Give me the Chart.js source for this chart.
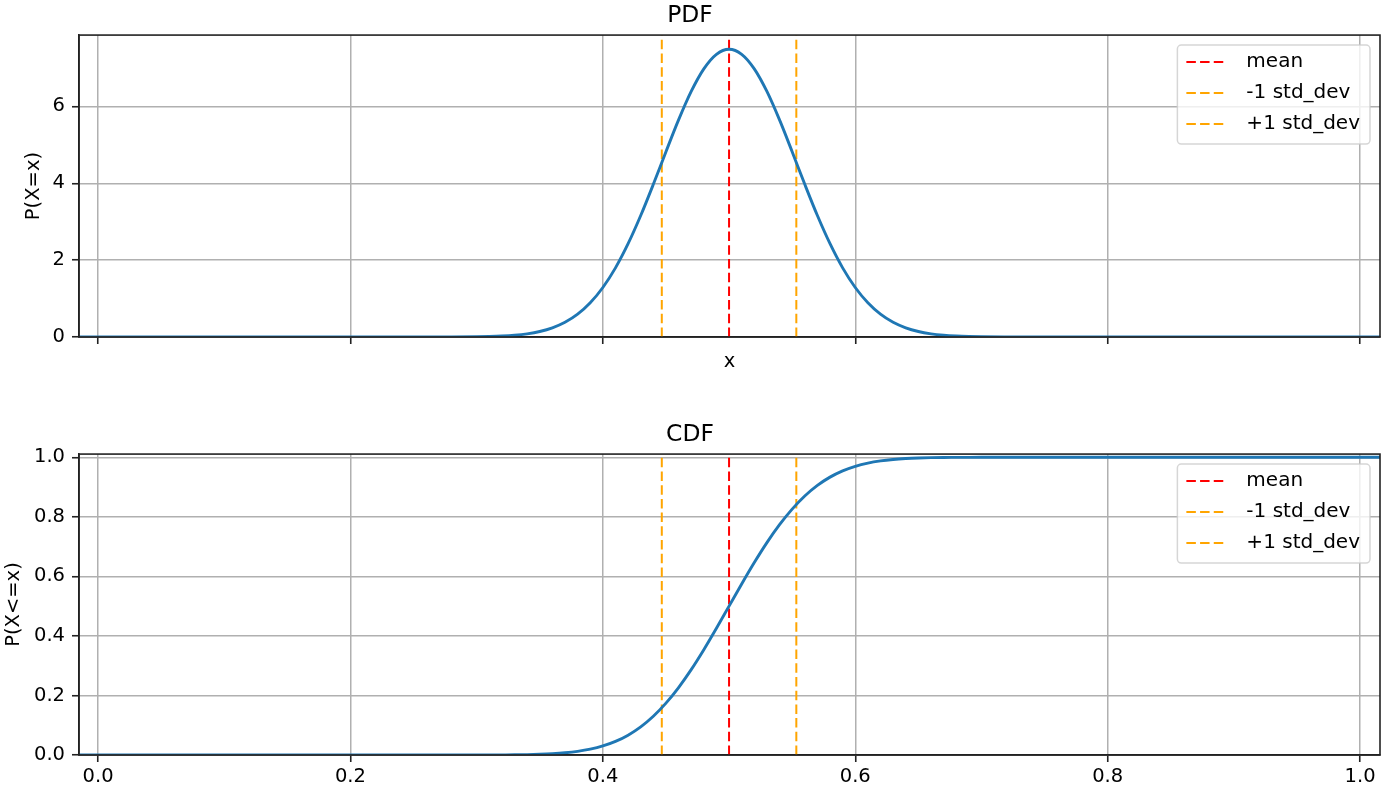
<!DOCTYPE html>
<html>
<head>
<meta charset="utf-8">
<script src="https://cdn.jsdelivr.net/npm/chart.js@4/dist/chart.umd.min.js"></script>
<style>
  body { margin: 0; background: #fff; }
  canvas { position: absolute; left: 0; }
</style>
</head>
<body>
<canvas id="pdfChart" width="1396" height="400" style="top:0"></canvas>
<canvas id="cdfChart" width="1396" height="402" style="top:400px"></canvas>
<script>
// values
const xValues = [-0.016, 0.00, 0.20, 0.25, 0.28, 0.30, 0.31, 0.32, 0.33, 0.34, 0.35, 0.36, 0.37, 0.38, 0.39,
  0.40, 0.41, 0.42, 0.43, 0.44, 0.45, 0.46, 0.47, 0.48, 0.49, 0.50, 0.51, 0.52, 0.53, 0.54, 0.55,
  0.56, 0.57, 0.58, 0.59, 0.60, 0.61, 0.62, 0.63, 0.64, 0.65, 0.66, 0.67, 0.68, 0.69, 0.70, 0.72,
  0.75, 0.80, 1.00, 1.017];
const pdfValues = [0, 0, 0, 0, 0.0015, 0.0066, 0.013, 0.025, 0.046, 0.083, 0.143, 0.238, 0.382, 0.593, 0.890,
  1.288, 1.799, 2.427, 3.160, 3.972, 4.821, 5.648, 6.389, 6.977, 7.355, 7.485, 7.355, 6.977, 6.389, 5.648, 4.821,
  3.972, 3.160, 2.427, 1.799, 1.288, 0.890, 0.593, 0.382, 0.238, 0.143, 0.083, 0.046, 0.025, 0.013, 0.0066, 0.0015,
  0, 0, 0, 0];
const cdfValues = [0, 0, 0, 0, 0, 0.0001, 0.0002, 0.0004, 0.0007, 0.0013, 0.0024, 0.0043, 0.0074, 0.0122, 0.0195,
  0.0303, 0.0456, 0.0667, 0.0945, 0.1301, 0.1741, 0.2265, 0.2867, 0.3537, 0.4256, 0.5, 0.5744, 0.6463, 0.7133, 0.7735, 0.8259,
  0.8699, 0.9055, 0.9333, 0.9544, 0.9697, 0.9805, 0.9878, 0.9926, 0.9957, 0.9976, 0.9987, 0.9993, 0.9996, 0.9998, 0.9999, 1.0,
  1.0, 1.0, 1.0, 1.0];

const markerNames = ['mean', '-1 std_dev', '+1 std_dev'];
const markerX = [0.5, 0.4467, 0.5533];
const markerColors = ['#ff0000', '#ffa500', '#ffa500'];

const xTickValues = [0, 0.2, 0.4, 0.6, 0.8, 1.0];
const xTickLabels = ['0.0', '0.2', '0.4', '0.6', '0.8', '1.0'];
const pdfTickValues = [0, 2, 4, 6];
const pdfTickLabels = ['0', '2', '4', '6'];
const cdfTickValues = [0, 0.2, 0.4, 0.6, 0.8, 1.0];
const cdfTickLabels = ['0.0', '0.2', '0.4', '0.6', '0.8', '1.0'];

const xRange = [-0.0151, 1.0158];
const pdfRange = [0, 7.855];
const cdfRange = [0, 1.0107];

Chart.defaults.font.family = "'DejaVu Sans', sans-serif";
Chart.defaults.font.size = 19.5;
Chart.defaults.color = '#000';

// matplotlib-like frame + legend drawn over the data
const mplFrame = {
  id: 'mplFrame',
  afterDatasetsDraw(chart) {
    const { ctx, chartArea: a } = chart;
    ctx.save();
    ctx.strokeStyle = '#222';
    ctx.lineWidth = 1.6;
    ctx.strokeRect(a.left, a.top, a.right - a.left, a.bottom - a.top);

    const items = chart.data.datasets.filter(d => d.inLegend);
    ctx.font = "20px 'DejaVu Sans', sans-serif";
    const textW = Math.max(...items.map(d => ctx.measureText(d.label).width));
    const w = textW + 79;
    const h = 99;
    const right = a.right - 10;
    const left = right - w;
    const top = a.top + 10;
    ctx.beginPath();
    ctx.roundRect(left, top, w, h, 4);
    ctx.fillStyle = 'rgba(255,255,255,0.8)';
    ctx.fill();
    ctx.strokeStyle = 'rgba(204,204,204,0.8)';
    ctx.lineWidth = 1.5;
    ctx.stroke();

    items.forEach((d, i) => {
      const y = top + 17 + i * 31;
      ctx.beginPath();
      ctx.setLineDash(d.borderDash);
      ctx.strokeStyle = d.borderColor;
      ctx.lineWidth = d.borderWidth;
      ctx.moveTo(left + 9, y);
      ctx.lineTo(left + 50, y);
      ctx.stroke();
      ctx.setLineDash([]);
      ctx.fillStyle = '#000';
      ctx.textBaseline = 'middle';
      ctx.textAlign = 'left';
      ctx.fillText(d.label, left + 69, y);
    });
    ctx.restore();
  }
};

function makeChart(id, opts) {
  const curve = xValues.map((x, i) => ({ x: x, y: opts.values[i] }));
  const datasets = [{
    label: opts.title,
    data: curve,
    showLine: true,
    borderColor: '#1f77b4',
    borderWidth: 2.9,
    pointRadius: 0,
    cubicInterpolationMode: 'monotone',
    inLegend: false
  }];
  markerNames.forEach((name, i) => {
    datasets.push({
      label: name,
      data: [{ x: markerX[i], y: opts.range[0] }, { x: markerX[i], y: opts.range[1] }],
      showLine: true,
      borderColor: markerColors[i],
      borderWidth: 2,
      borderDash: [9.5, 4.2],
      pointRadius: 0,
      inLegend: true
    });
  });

  return new Chart(document.getElementById(id), {
    type: 'scatter',
    data: { datasets: datasets },
    plugins: [mplFrame],
    options: {
      responsive: false,
      animation: false,
      layout: { padding: { left: 0, right: 16, top: 0, bottom: 0 } },
      plugins: {
        legend: { display: false },
        tooltip: { enabled: false },
        title: {
          display: true,
          text: opts.title,
          font: { size: 23.4, weight: 'normal' },
          padding: opts.titlePad
        }
      },
      scales: {
        x: {
          type: 'linear',
          min: xRange[0],
          max: xRange[1],
          afterBuildTicks: s => { s.ticks = xTickValues.map(v => ({ value: v })); },
          afterFit: s => { s.height = opts.xHeight; },
          ticks: {
            display: opts.showXLabels,
            padding: 3,
            maxRotation: 0,
            callback: (v, i) => xTickLabels[i]
          },
          grid: { color: '#b0b0b0', lineWidth: 1.5, tickLength: 7, tickColor: '#222', tickWidth: 1.6 },
          border: { color: '#222', width: 1.6 },
          title: {
            display: opts.xTitle !== '',
            text: opts.xTitle,
            font: { size: 19.5 },
            padding: { top: 0, bottom: 26 }
          }
        },
        y: {
          type: 'linear',
          min: opts.range[0],
          max: opts.range[1],
          afterBuildTicks: s => { s.ticks = opts.tickValues.map(v => ({ value: v })); },
          afterFit: s => { s.width = 79; },
          ticks: {
            padding: 7,
            callback: (v, i) => opts.tickLabels[i]
          },
          grid: { color: '#b0b0b0', lineWidth: 1.5, tickLength: 7, tickColor: '#222', tickWidth: 1.6 },
          border: { color: '#222', width: 1.6 },
          title: {
            display: true,
            text: opts.yTitle,
            font: { size: 19.5 },
            padding: { top: opts.yTitlePad, bottom: 0 }
          }
        }
      }
    }
  });
}

makeChart('pdfChart', {
  title: 'PDF',
  values: pdfValues,
  range: pdfRange,
  tickValues: pdfTickValues,
  tickLabels: pdfTickLabels,
  yTitle: 'P(X=x)',
  yTitlePad: 21.8,
  xTitle: 'x',
  showXLabels: false,
  xHeight: 63,
  titlePad: { top: 2, bottom: 5 }
});

makeChart('cdfChart', {
  title: 'CDF',
  values: cdfValues,
  range: cdfRange,
  tickValues: cdfTickValues,
  tickLabels: cdfTickLabels,
  yTitle: 'P(X<=x)',
  yTitlePad: 1.8,
  xTitle: '',
  showXLabels: true,
  xHeight: 47,
  titlePad: { top: 21, bottom: 5 }
});
</script>
</body>
</html>
